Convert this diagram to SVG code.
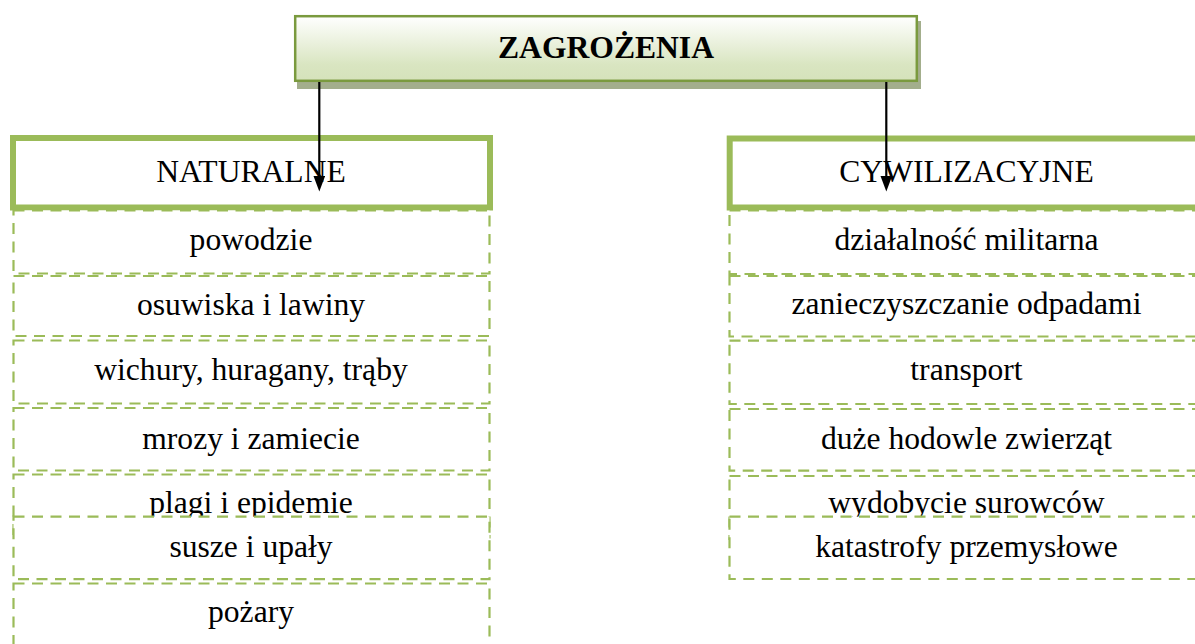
<svg xmlns="http://www.w3.org/2000/svg" width="1195" height="644" viewBox="0 0 1195 644">
<defs>
<linearGradient id="topGrad" x1="0" y1="0" x2="0" y2="1">
<stop offset="0" stop-color="#ffffff"/>
<stop offset="0.75" stop-color="#d9e5c1"/>
<stop offset="1" stop-color="#d5e2bb"/>
</linearGradient>
<marker id="arr" markerWidth="17" markerHeight="12" refX="1" refY="6" orient="auto" markerUnits="userSpaceOnUse" viewBox="0 0 17 12">
<path d="M0,0 L16,6 L0,12 Z" fill="#000"/>
</marker>
</defs>
<style>
.txt{font-family:"Liberation Serif","Times New Roman",serif;font-size:31.6px;fill:#000;text-anchor:middle}
.bold{font-weight:bold}
.head{fill:#fff;stroke:#9bbb59;stroke-width:6}
.item{fill:#fff;stroke:#9bbb59;stroke-width:2.2;stroke-dasharray:11 7.5}
.conn{stroke:#000;stroke-width:2.2;fill:none}
</style>
<rect width="1195" height="644" fill="#fff"/>
<g id="root">
<rect x="297" y="21" width="624" height="68" fill="#a3ae8c"/>
<rect x="295.2" y="16.2" width="621.6" height="64.6" fill="url(#topGrad)" stroke="#7a9a3e" stroke-width="2.5"/>
<text class="txt bold" x="606" y="57.5">ZAGROŻENIA</text>
</g>
<g id="naturalne">
<rect class="head" x="13" y="138" width="477" height="69.5"/>
<text class="txt" x="251" y="182.3">NATURALNE</text>
</g>
<g id="cywilizacyjne">
<rect class="head" x="729.7" y="138.5" width="490" height="69"/>
<text class="txt" x="966.5" y="181.7">CYWILIZACYJNE</text>
</g>
<g id="n-powodzie">
<rect class="item" x="13.5" y="210.5" width="476" height="63"/>
<text class="txt" x="251" y="250">powodzie</text>
</g>
<g id="n-osuwiska">
<rect class="item" x="13.5" y="276" width="476" height="60"/>
<text class="txt" x="251" y="315">osuwiska i lawiny</text>
</g>
<g id="n-wichury">
<rect class="item" x="13.5" y="340.5" width="476" height="63"/>
<text class="txt" x="251" y="380">wichury, huragany, trąby</text>
</g>
<g id="n-mrozy">
<rect class="item" x="13.5" y="408" width="476" height="62.5"/>
<text class="txt" x="251" y="449.3">mrozy i zamiecie</text>
</g>
<g id="n-plagi">
<rect class="item" x="13.5" y="474.5" width="476" height="63"/>
<text class="txt" x="251" y="512.7">plagi i epidemie</text>
</g>
<g id="n-susze">
<rect class="item" x="13.5" y="516.7" width="476" height="62.5"/>
<text class="txt" x="251" y="556.7">susze i upały</text>
</g>
<g id="n-pozary">
<rect class="item" x="13.5" y="583.5" width="476" height="64"/>
<text class="txt" x="251" y="621.7">pożary</text>
</g>
<g id="c-militarna">
<rect class="item" x="729.5" y="210.5" width="490" height="63.5"/>
<text class="txt" x="966.5" y="250">działalność militarna</text>
</g>
<g id="c-odpady">
<rect class="item" x="729.5" y="276" width="490" height="60.5"/>
<text class="txt" x="966.5" y="314">zanieczyszczanie odpadami</text>
</g>
<g id="c-transport">
<rect class="item" x="729.5" y="340.7" width="490" height="63.3"/>
<text class="txt" x="966.5" y="380">transport</text>
</g>
<g id="c-hodowle">
<rect class="item" x="729.5" y="409" width="490" height="61.7"/>
<text class="txt" x="966.5" y="449">duże hodowle zwierząt</text>
</g>
<g id="c-wydobycie">
<rect class="item" x="729.5" y="476" width="490" height="63"/>
<text class="txt" x="966.5" y="513">wydobycie surowców</text>
</g>
<g id="c-katastrofy">
<rect class="item" x="729.5" y="516.7" width="490" height="62.3"/>
<text class="txt" x="966.5" y="557">katastrofy przemysłowe</text>
</g>
<g id="connectors">
<line class="conn" x1="319.3" y1="82" x2="319.3" y2="176.5" marker-end="url(#arr)"/>
<line class="conn" x1="886.3" y1="82" x2="886.3" y2="176.5" marker-end="url(#arr)"/>
</g>
</svg>
